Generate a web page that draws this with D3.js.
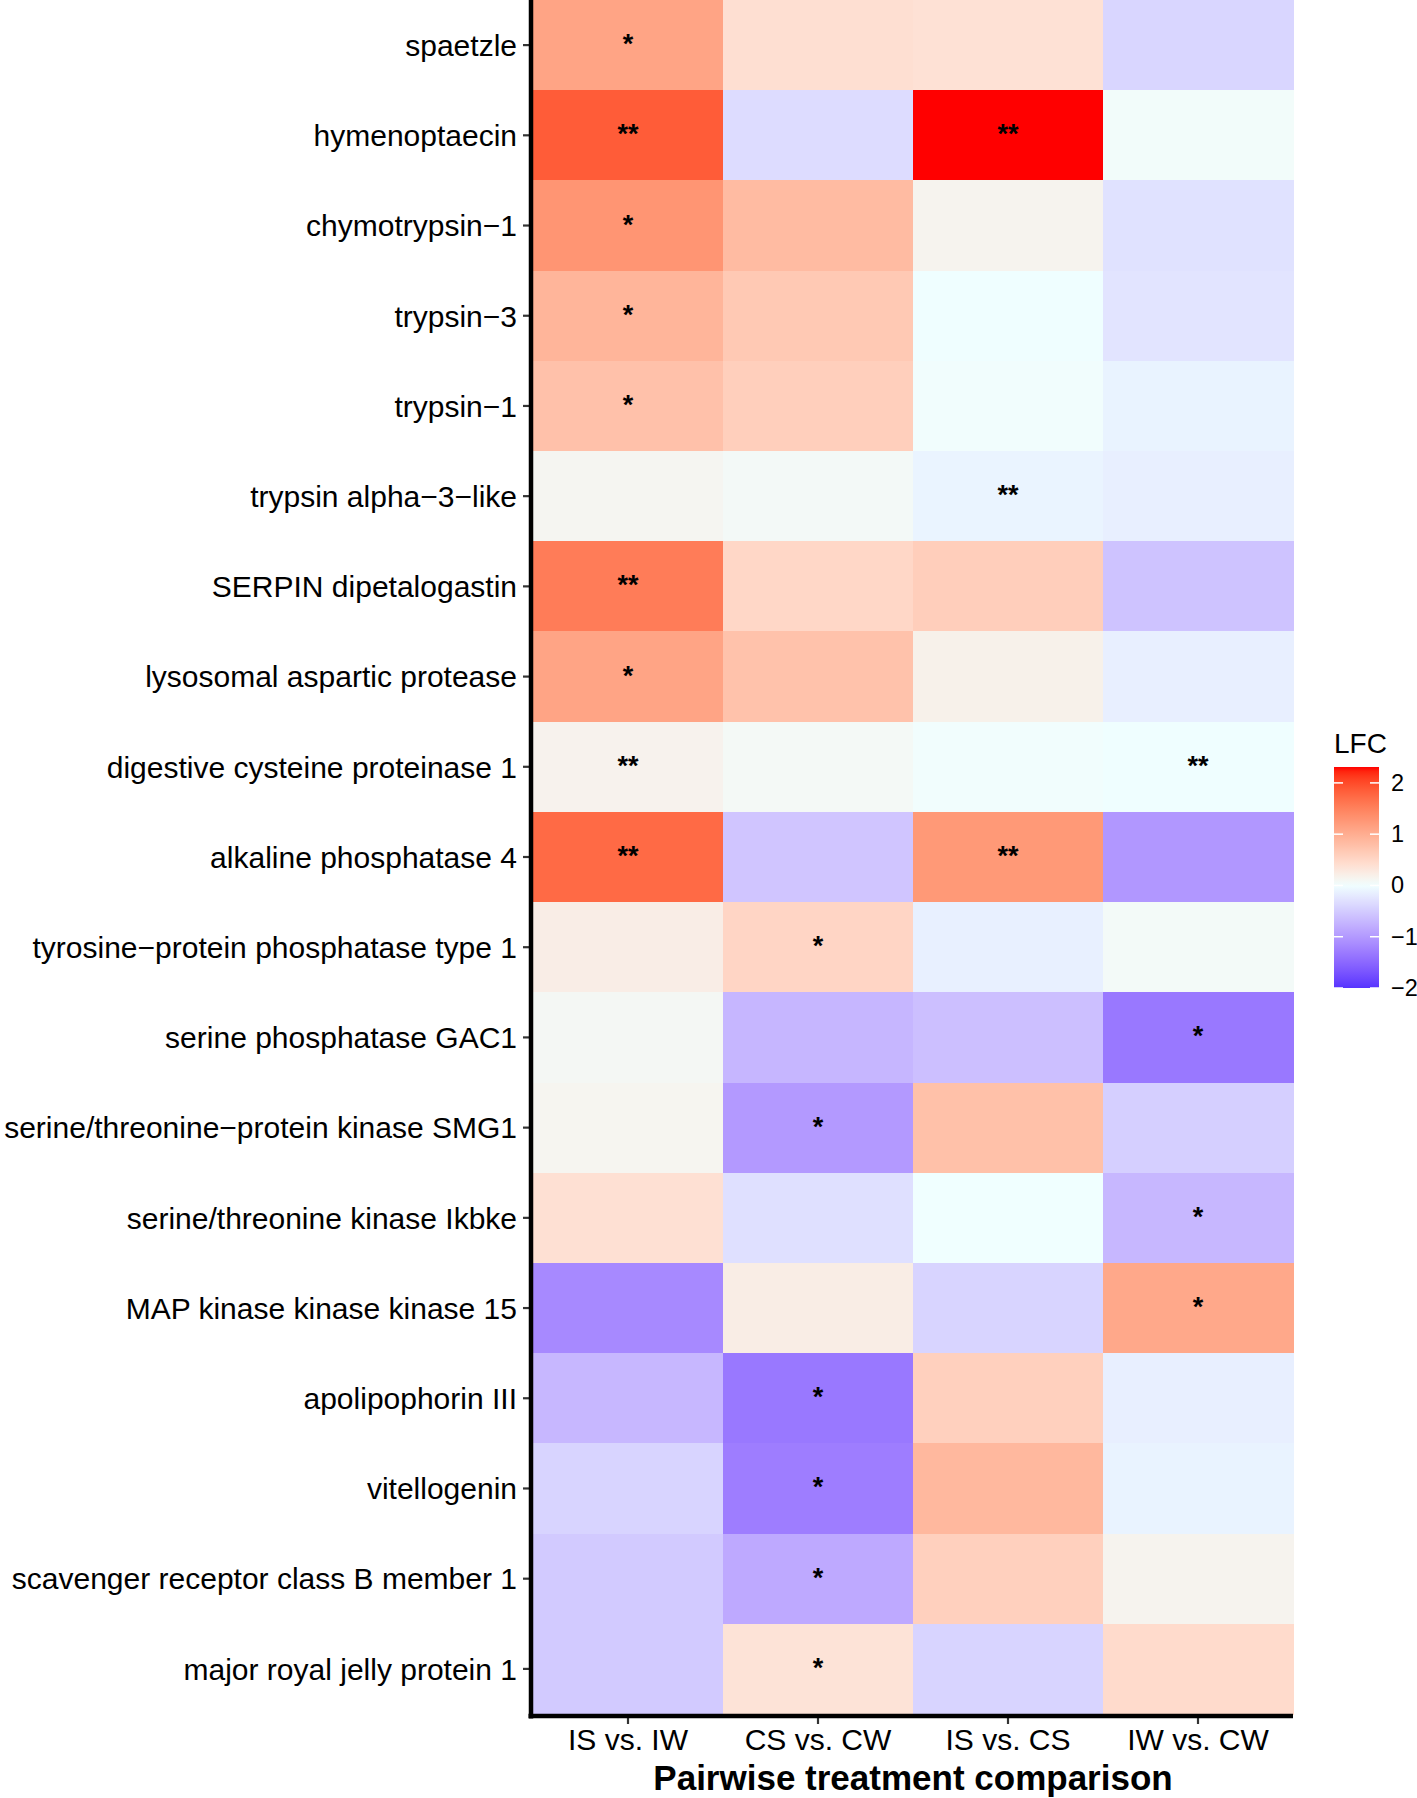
<!DOCTYPE html>
<html>
<head>
<meta charset="utf-8">
<script src="https://cdn.jsdelivr.net/npm/d3@7"></script>
<style>
  html, body { margin: 0; padding: 0; background: #ffffff; }
  svg { display: block; font-family: "Liberation Sans", Arial, Helvetica, sans-serif; }
</style>
</head>
<body>
<svg id="chart" width="1417" height="1798"></svg>
<script>
// ---- data ----
const genes = [
  "spaetzle",
  "hymenoptaecin",
  "chymotrypsin\u22121",
  "trypsin\u22123",
  "trypsin\u22121",
  "trypsin alpha\u22123\u2212like",
  "SERPIN dipetalogastin",
  "lysosomal aspartic protease",
  "digestive cysteine proteinase 1",
  "alkaline phosphatase 4",
  "tyrosine\u2212protein phosphatase type 1",
  "serine phosphatase GAC1",
  "serine/threonine\u2212protein kinase SMG1",
  "serine/threonine kinase Ikbke",
  "MAP kinase kinase kinase 15",
  "apolipophorin III",
  "vitellogenin",
  "scavenger receptor class B member 1",
  "major royal jelly protein 1"
];
const comparisons = ["IS vs. IW", "CS vs. CW", "IS vs. CS", "IW vs. CW"];

// LFC values per comparison, in gene order
const lfcISvsIW = [1.11, 1.86, 1.28, 0.91, 0.76, 0.12, 1.55, 1.11, 0.16, 1.73, 0.22, 0.10, 0.13, 0.39, -1.16, -0.70, -0.42, -0.52, -0.52];
const lfcCSvsCW = [0.40, -0.34, 0.84, 0.67, 0.60, 0.07, 0.50, 0.75, 0.08, -0.56, 0.52, -0.71, -1.00, -0.30, 0.23, -1.34, -1.28, -0.84, 0.35];
const lfcISvsCS = [0.37, 2.31, 0.15, -0.01, 0.02, -0.11, 0.61, 0.18, 0.02, 1.24, -0.14, -0.62, 0.77, 0.00, -0.42, 0.58, 0.87, 0.58, -0.42];
const lfcIWvsCW = [-0.40, 0.04, -0.28, -0.26, -0.12, -0.15, -0.58, -0.15, -0.01, -1.02, 0.06, -1.34, -0.47, -0.70, 1.06, -0.15, -0.12, 0.15, 0.45];

// significance labels per comparison
const sigISvsIW = ["*", "**", "*", "*", "*", "", "**", "*", "**", "**", "", "", "", "", "", "", "", "", ""];
const sigCSvsCW = ["", "", "", "", "", "", "", "", "", "", "*", "", "*", "", "", "*", "*", "*", "*"];
const sigISvsCS = ["", "**", "", "", "", "**", "", "", "", "**", "", "", "", "", "", "", "", "", ""];
const sigIWvsCW = ["", "", "", "", "", "", "", "", "**", "", "", "*", "", "*", "*", "", "", "", ""];

const legendLimits = [-2, 2.31];
const legendTicks = [-2, -1, 0, 1, 2];
const legendTitle = "LFC";
const xTitle = "Pairwise treatment comparison";

// ---- build table ----
const lfcCols = [lfcISvsIW, lfcCSvsCW, lfcISvsCS, lfcIWvsCW];
const sigCols = [sigISvsIW, sigCSvsCW, sigISvsCS, sigIWvsCW];
const cells = [];
comparisons.forEach((c, ci) => {
  genes.forEach((g, gi) => {
    cells.push({ comp: c, gene: g, value: lfcCols[ci][gi], sig: sigCols[ci][gi] });
  });
});

// ---- layout ----
const svg = d3.select("#chart");
svg.append("rect").attr("width", 1417).attr("height", 1798).attr("fill", "#ffffff");

const panel = { left: 533, right: 1293, top: 0, bottom: 1714 };

const x = d3.scaleBand().domain(comparisons).range([panel.left, panel.right]).padding(0);
const y = d3.scaleBand().domain(genes).range([panel.top, panel.bottom]).padding(0);

const maxAbs = d3.max(legendLimits, d => Math.abs(d));
const color = d3.scaleDiverging()
  .domain([-maxAbs, 0, maxAbs])
  .interpolator(d3.piecewise(d3.interpolateLab, ["blue", "azure", "red"]));

// tiles
svg.append("g")
  .selectAll("rect")
  .data(cells)
  .join("rect")
  .attr("x", d => x(d.comp))
  .attr("y", d => y(d.gene))
  .attr("width", x.bandwidth() + 0.5)
  .attr("height", y.bandwidth() + 0.5)
  .attr("fill", d => color(d.value))
  .attr("shape-rendering", "crispEdges");

// significance stars
svg.append("g")
  .selectAll("text")
  .data(cells.filter(d => d.sig))
  .join("text")
  .attr("x", d => x(d.comp) + x.bandwidth() / 2)
  .attr("y", d => y(d.gene) + y.bandwidth() / 2 + 8)
  .attr("text-anchor", "middle")
  .attr("font-size", 27)
  .attr("font-weight", "bold")
  .attr("fill", "#000")
  .text(d => d.sig);

// y axis
const yAxis = d3.axisLeft(y).tickSize(7).tickPadding(6).tickSizeOuter(0);
const gy = svg.append("g").attr("transform", `translate(${panel.left - 3},0)`).call(yAxis);
gy.select(".domain").remove();
gy.selectAll(".tick line").attr("stroke", "#333").attr("stroke-width", 2.2);
gy.selectAll(".tick text")
  .attr("font-size", 30)
  .attr("fill", "#000")
  .attr("font-family", "'Liberation Sans', Arial, sans-serif")
  .attr("dy", "0.36em");

// x axis
const xAxis = d3.axisBottom(x).tickSize(7).tickPadding(6).tickSizeOuter(0);
const gx = svg.append("g").attr("transform", `translate(0,${panel.bottom + 3})`).call(xAxis);
gx.select(".domain").remove();
gx.selectAll(".tick line").attr("stroke", "#333").attr("stroke-width", 2.2);
gx.selectAll(".tick text")
  .attr("font-size", 30)
  .attr("fill", "#000")
  .attr("font-family", "'Liberation Sans', Arial, sans-serif")
  .attr("dy", "0.68em");

// axis lines (thick black)
svg.append("line")
  .attr("x1", panel.left - 2).attr("x2", panel.left - 2)
  .attr("y1", panel.top).attr("y2", panel.bottom + 4.5)
  .attr("stroke", "#000").attr("stroke-width", 4.5);
svg.append("line")
  .attr("x1", panel.left - 4.5).attr("x2", panel.right)
  .attr("y1", panel.bottom + 2).attr("y2", panel.bottom + 2)
  .attr("stroke", "#000").attr("stroke-width", 4.5);

// x title
svg.append("text")
  .attr("x", (panel.left + panel.right) / 2)
  .attr("y", 1790)
  .attr("text-anchor", "middle")
  .attr("font-size", 35)
  .attr("font-weight", "bold")
  .attr("fill", "#000")
  .text(xTitle);

// ---- legend ----
const lg = { x: 1334, w: 45, top: 767, bottom: 988 };
const ly = d3.scaleLinear().domain(legendLimits).range([lg.bottom, lg.top]);

const defs = svg.append("defs");
const grad = defs.append("linearGradient")
  .attr("id", "lfcgrad")
  .attr("x1", "0").attr("x2", "0").attr("y1", "1").attr("y2", "0");
d3.range(0, 1.0001, 0.02).forEach(t => {
  const v = legendLimits[0] + t * (legendLimits[1] - legendLimits[0]);
  grad.append("stop").attr("offset", t).attr("stop-color", color(v));
});

svg.append("text")
  .attr("x", lg.x)
  .attr("y", 753)
  .attr("font-size", 28)
  .attr("fill", "#000")
  .text(legendTitle);

svg.append("rect")
  .attr("x", lg.x).attr("y", lg.top)
  .attr("width", lg.w).attr("height", lg.bottom - lg.top)
  .attr("fill", "url(#lfcgrad)");

const legG = svg.append("g");
legendTicks.forEach(t => {
  legG.append("line")
    .attr("x1", lg.x).attr("x2", lg.x + 9)
    .attr("y1", ly(t)).attr("y2", ly(t))
    .attr("stroke", "#fff").attr("stroke-width", 1.5);
  legG.append("line")
    .attr("x1", lg.x + lg.w - 9).attr("x2", lg.x + lg.w)
    .attr("y1", ly(t)).attr("y2", ly(t))
    .attr("stroke", "#fff").attr("stroke-width", 1.5);
});
const legAxis = d3.axisRight(ly).tickValues(legendTicks).tickSize(0).tickPadding(12)
  .tickFormat(d => d < 0 ? "\u2212" + Math.abs(d) : String(d));
const gl = svg.append("g").attr("transform", `translate(${lg.x + lg.w},0)`).call(legAxis);
gl.select(".domain").remove();
gl.selectAll(".tick text")
  .attr("font-size", 23.5)
  .attr("fill", "#000")
  .attr("font-family", "'Liberation Sans', Arial, sans-serif");
</script>
</body>
</html>
